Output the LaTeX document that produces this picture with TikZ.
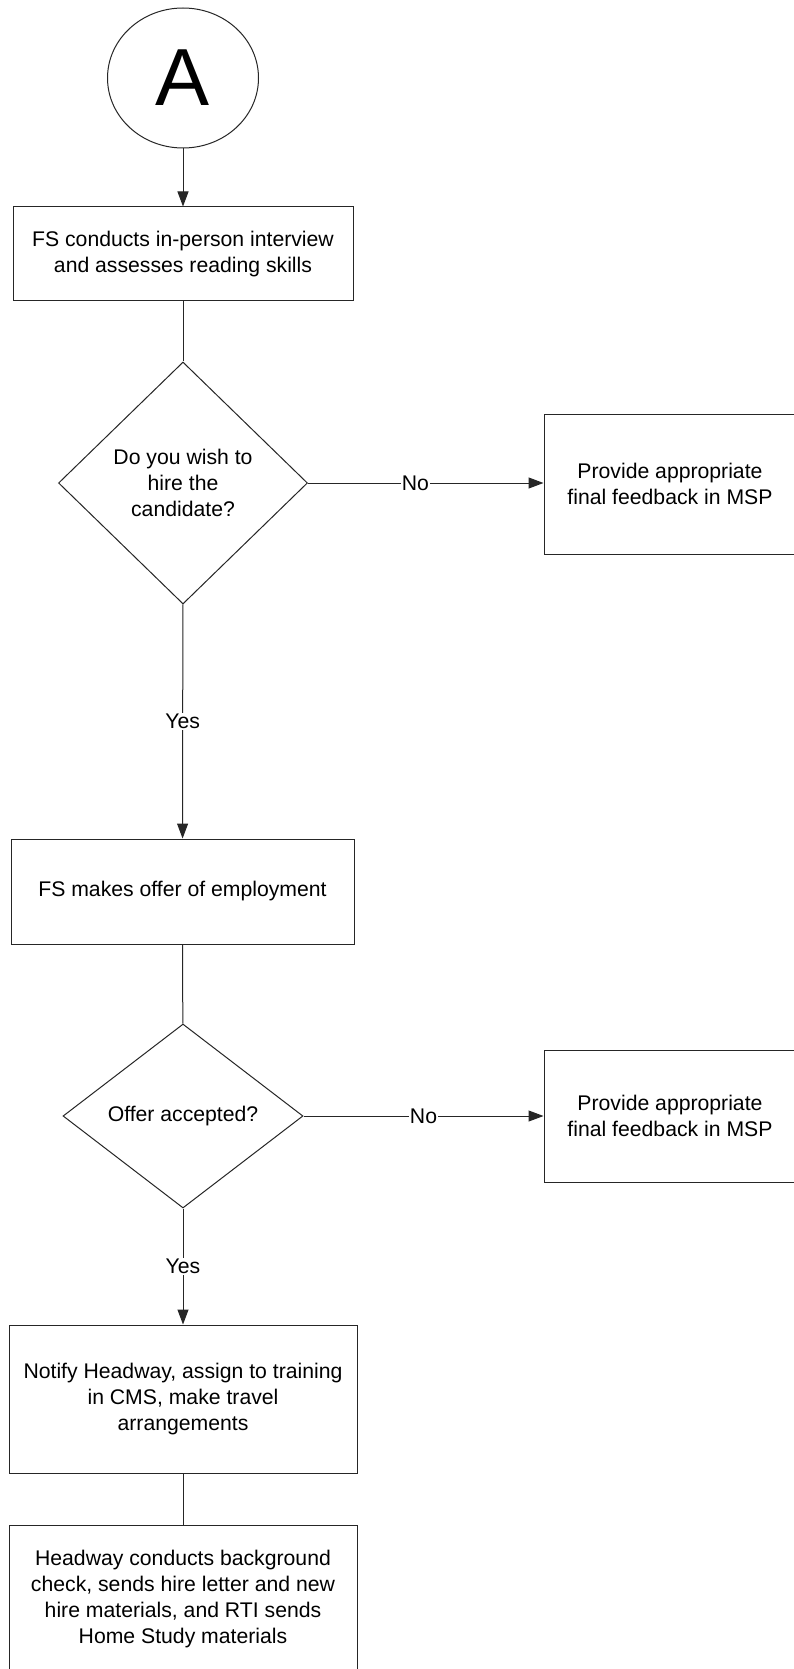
\documentclass[tikz,border=0pt]{standalone}
\usepackage{fontspec}
\setmainfont{Liberation Sans}
\usetikzlibrary{shapes.geometric,arrows.meta}
\begin{document}
\begin{tikzpicture}[x=1pt,y=-1pt,
  every node/.style={font=\fontsize{21.2}{26}\selectfont},
  procbox/.style={draw=black!85,line width=1pt,rectangle,align=center,inner sep=0pt},
  decbox/.style={draw=black!85,line width=1pt,diamond,align=center,inner sep=0pt,aspect=1},
  conn/.style={draw=black!85,line width=1pt},
  arr/.style={conn,-{Triangle[length=15pt,width=11pt]}},
  lbl/.style={fill=white,inner sep=1pt}]
\useasboundingbox (0,0) rectangle (793,1669);
\fill[white] (0,0) rectangle (793,1669);
\node[draw=black!85,line width=1pt,ellipse,minimum width=151pt,minimum height=140pt,inner sep=0pt,
  font=\fontsize{81}{81}\selectfont] (a) at (183,78) {A};
\node[procbox,minimum width=340pt,minimum height=94pt] (b1) at (183,254)
  {FS conducts in-person interview\\and assesses reading skills};
\node[decbox,minimum width=249pt,minimum height=242pt] (d1) at (183,483)
  {Do you wish to\\hire the\\candidate?};
\node[procbox,minimum width=252pt,minimum height=140pt] (b2) at (670,484)
  {Provide appropriate\\final feedback in MSP};
\node[procbox,minimum width=343pt,minimum height=105pt] (b3) at (182.5,891.5)
  {FS makes offer of employment};
\node[decbox,minimum width=240pt,minimum height=184pt] (d2) at (183,1116)
  {Offer accepted?};
\node[procbox,minimum width=252pt,minimum height=132pt] (b4) at (670,1116)
  {Provide appropriate\\final feedback in MSP};
\node[procbox,minimum width=348pt,minimum height=148pt] (b5) at (183,1399)
  {Notify Headway, assign to training\\in CMS, make travel\\arrangements};
\node[procbox,minimum width=348pt,minimum height=147pt] (b6) at (183,1598.5)
  {Headway conducts background\\check, sends hire letter and new\\hire materials, and RTI sends\\Home Study materials};
\draw[arr] (a) -- (b1);
\draw[conn] (b1) -- (d1);
\draw[arr] (d1.east) -- node[lbl,pos=0.456] {No} (b2.west |- d1.east);
\draw[arr] (d1) -- node[lbl,pos=0.5] {Yes} (b3);
\draw[conn] (b3) -- (d2);
\draw[arr] (d2) -- node[lbl,pos=0.5] {No} (b4);
\draw[arr] (d2) -- node[lbl,pos=0.5] {Yes} (b5);
\draw[conn] (b5) -- (b6);
\end{tikzpicture}
\end{document}
